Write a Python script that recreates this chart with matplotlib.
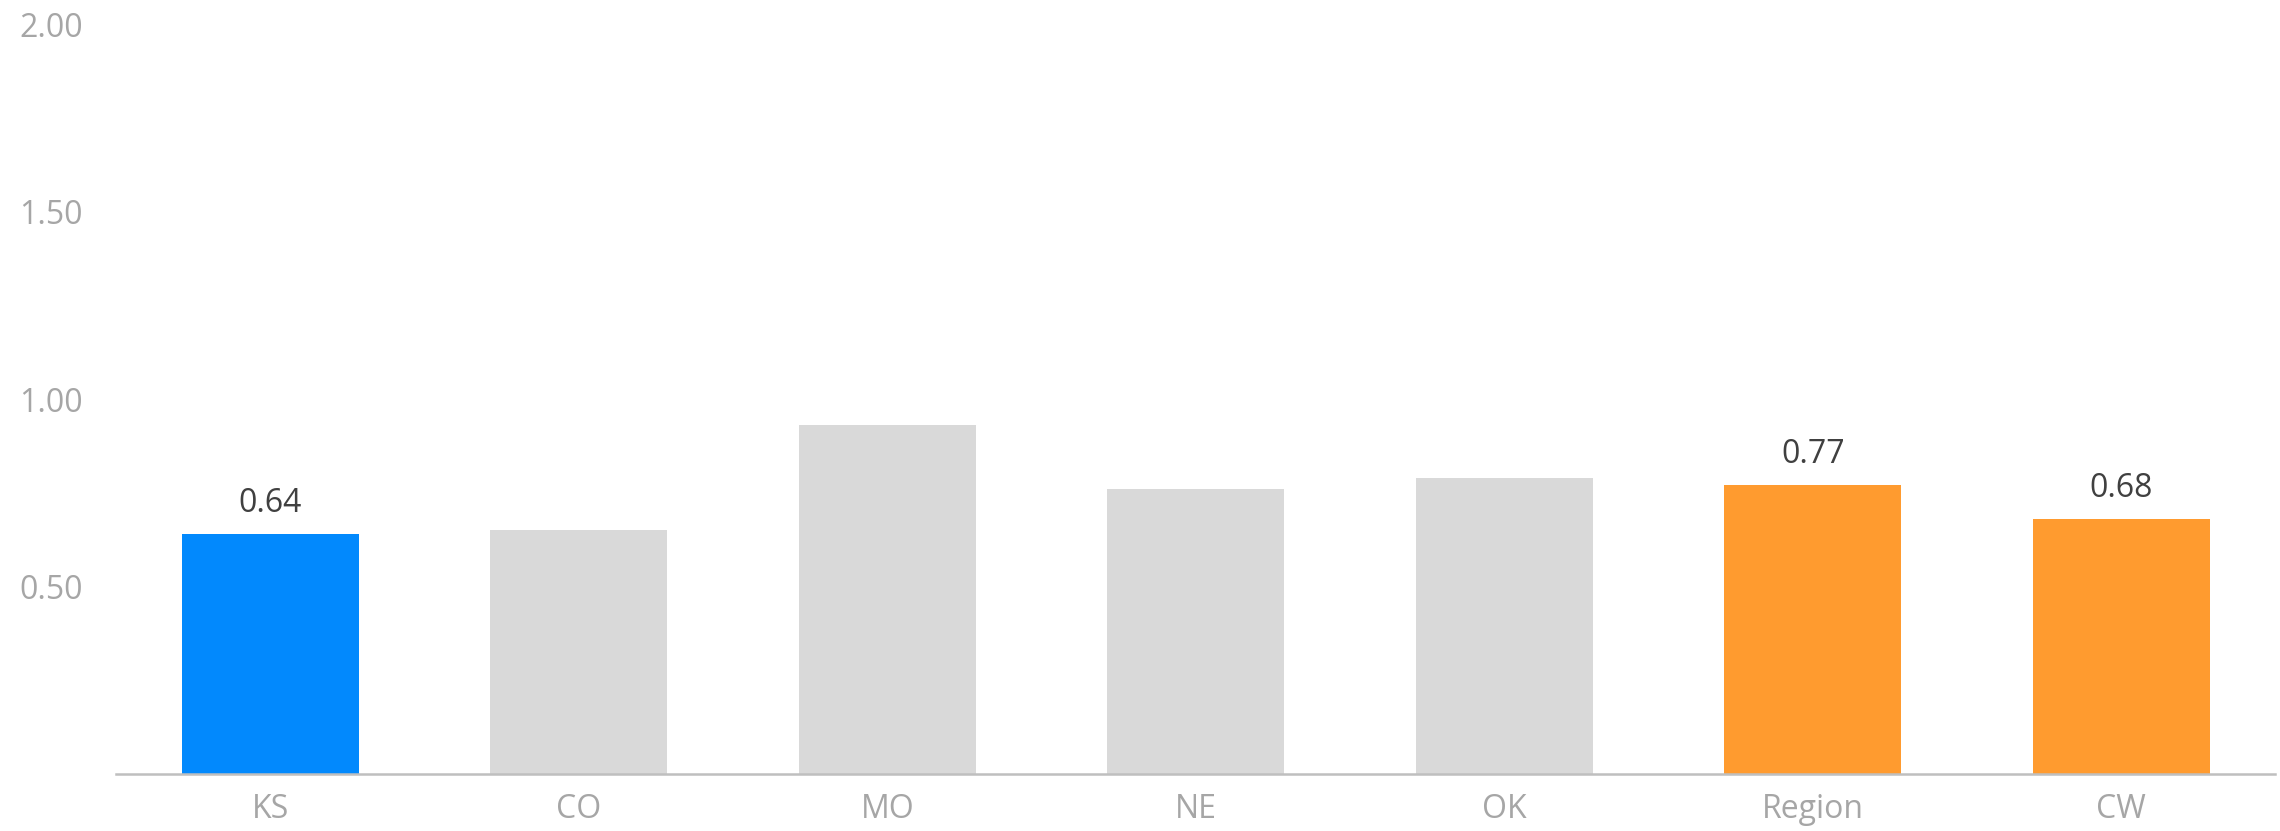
import matplotlib
matplotlib.use("Agg")
import matplotlib.pyplot as plt
import numpy as np

# Values per state / aggregate
categories = ["KS", "CO", "MO", "NE", "OK", "Region", "CW"]
values = [0.64, 0.65, 0.93, 0.76, 0.79, 0.77, 0.68]
bar_colors = ["#0289FD", "#D9D9D9", "#D9D9D9", "#D9D9D9", "#D9D9D9", "#FF9B2F", "#FF9B2F"]
show_label = [True, False, False, False, False, True, True]
y_ticks = [0.5, 1.0, 1.5, 2.0]

plt.rcParams["font.family"] = ["Open Sans", "DejaVu Sans"]

fig = plt.figure(figsize=(22.8, 8.31), dpi=100)
ax = fig.add_axes([0.0509, 0.0686, 0.9471, 0.9025])

x = np.arange(len(categories))
bars = ax.bar(x, values, width=0.574, color=bar_colors, zorder=2)

for b, v, show in zip(bars, values, show_label):
    if show:
        ax.annotate(f"{v:.2f}", (b.get_x() + b.get_width() / 2, v),
                    xytext=(0, 16), textcoords="offset points",
                    ha="center", va="baseline", fontsize=23, color="#404040")

ax.set_xlim(-0.5, len(categories) - 0.5)
ax.set_ylim(0, 2.0)
ax.set_xticks(x)
ax.set_xticklabels(categories)
ax.set_yticks(y_ticks)
ax.set_yticklabels([f"{t:.2f}" for t in y_ticks])
ax.tick_params(axis="y", length=0, pad=24, labelsize=23, labelcolor="#A6A6A6")
ax.tick_params(axis="x", length=0, pad=14, labelsize=23, labelcolor="#A6A6A6")

for s in ["top", "right", "left"]:
    ax.spines[s].set_visible(False)
ax.spines["bottom"].set_color("#BFBFBF")
ax.spines["bottom"].set_linewidth(1.8)

fig.savefig("out.png", dpi=100, facecolor="white")
